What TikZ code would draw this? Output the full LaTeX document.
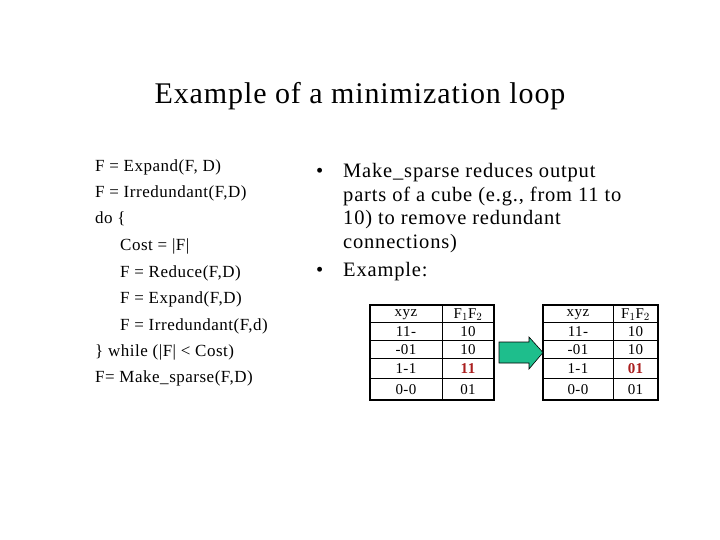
\documentclass[tikz,border=0pt]{standalone}
\usepackage{fontspec}
\setmainfont{Liberation Serif}
\newfontfamily\bulfont[LetterSpace=4]{Liberation Serif}
\newfontfamily\codefont[LetterSpace=3]{Liberation Serif}
\newfontfamily\titfont[LetterSpace=3]{Liberation Serif}
\newfontfamily\cellfont[LetterSpace=3]{Liberation Serif}
\begin{document}
\begin{tikzpicture}[x=1pt,y=-1pt,
  code/.style={anchor=west,font=\codefont\fontsize{17}{18}\selectfont,inner sep=0},
  bul/.style={anchor=west,font=\bulfont\fontsize{20.5}{22}\selectfont,inner sep=0},
  cell/.style={font=\cellfont\fontsize{15}{15}\selectfont,inner sep=0},
  outer/.style={line width=1.6pt},
  inner/.style={line width=0.7pt}]
\useasboundingbox (0,0) rectangle (720,540);
\node[font=\titfont\fontsize{30}{32}\selectfont] (title) at (360,96) {Example of a minimization loop};
\node[code] (l1) at (95,167) {F = Expand(F, D)};
\node[code] (l2) at (95,193) {F = Irredundant(F,D)};
\node[code] (l3) at (95,219) {do \{};
\node[code] (l4) at (120,246) {Cost = |F|};
\node[code] (l5) at (120,273) {F = Reduce(F,D)};
\node[code] (l6) at (120,299) {F = Expand(F,D)};
\node[code] (l7) at (120,326) {F = Irredundant(F,d)};
\node[code] (l8) at (95,352) {\} while (|F| < Cost)};
\node[code] (l9) at (95,378) {F= Make\_sparse(F,D)};
\node[bul] (b1) at (316,173) {•};
\node[bul] (t1) at (343,173) {Make\_sparse reduces output};
\node[bul] (t2) at (343,196) {parts of a cube (e.g., from 11 to};
\node[bul] (t3) at (343,220) {10) to remove redundant};
\node[bul] (t4) at (343,244) {connections)};
\node[bul] (b2) at (316,272) {•};
\node[bul] (t5) at (343,272) {Example:};
\foreach \x/\m/\r/\v in {370/442/494/11,543/613/658/01}{
  \draw[inner] (\m,305) -- (\m,400);
  \foreach \y in {322,340,358,378} \draw[inner] (\x,\y) -- (\r,\y);
  \draw[outer] (\x,305) rectangle (\r,400);
  \node[cell] at ({(\x+\m)/2},315) {xyz};
  \node[cell] at ({(\m+\r)/2},315) {F$_1$F$_2$};
  \node[cell] at ({(\x+\m)/2},332) {11-};
  \node[cell] at ({(\m+\r)/2},332) {10};
  \node[cell] at ({(\x+\m)/2},350) {-01};
  \node[cell] at ({(\m+\r)/2},350) {10};
  \node[cell] at ({(\x+\m)/2},369) {1-1};
  \node[cell,text={rgb,255:red,170;green,30;blue,30},font=\cellfont\fontsize{15}{15}\selectfont\bfseries] at ({(\m+\r)/2},369) {\v};
  \node[cell] at ({(\x+\m)/2},390) {0-0};
  \node[cell] at ({(\m+\r)/2},390) {01};
}
\draw[fill={rgb,255:red,30;green,190;blue,140},line width=0.6pt] (499,342) -- (529,342) -- (529,337) -- (543,352.5) -- (529,369) -- (529,363) -- (499,363) -- cycle;
\end{tikzpicture}
\end{document}
